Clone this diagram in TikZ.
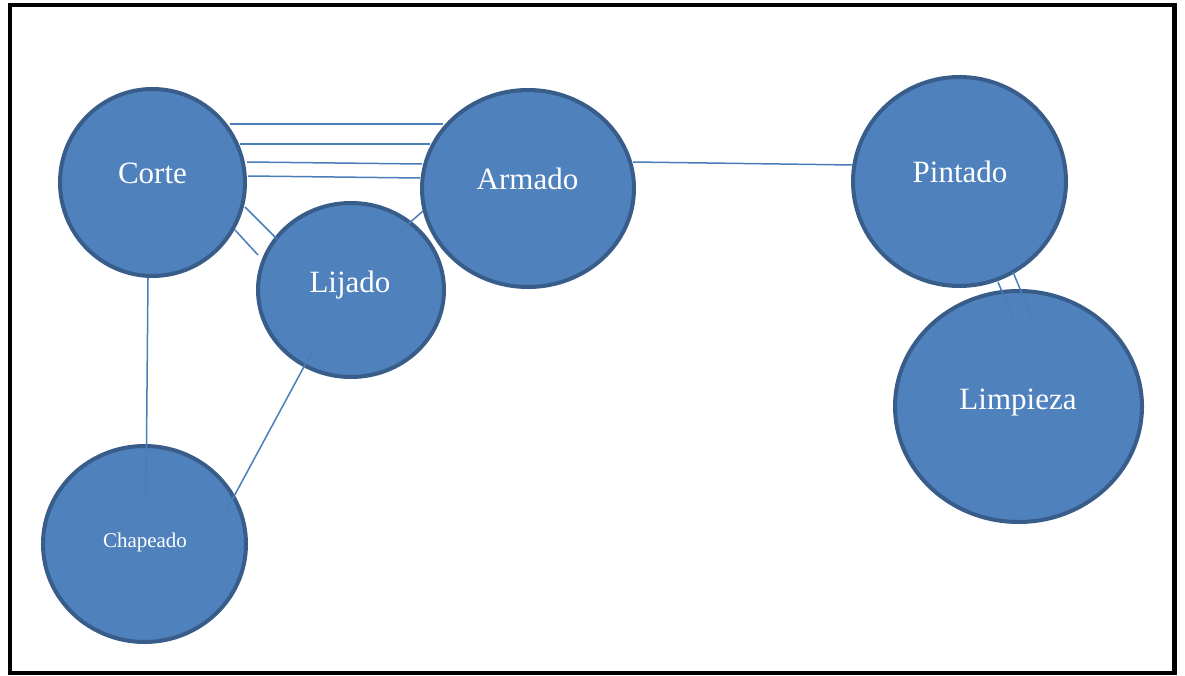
\documentclass[tikz,border=0pt]{standalone}
\usepackage{fontspec}
\setmainfont{Liberation Serif}
\usetikzlibrary{shapes.geometric,calc}
\definecolor{stepfill}{HTML}{4F81BD}
\definecolor{stepedge}{HTML}{385D8A}
\definecolor{linkcol}{HTML}{4A7EBB}
\begin{document}
\begin{tikzpicture}[x=1pt,y=-1pt,
  stage/.style={ellipse,draw=stepedge,fill=stepfill,line width=4pt,inner sep=0pt},
  bigtxt/.style={anchor=base,text=white,font=\fontsize{31}{37}\selectfont,inner sep=0pt},
  smalltxt/.style={anchor=base,text=white,font=\fontsize{21}{25}\selectfont,inner sep=0pt},
  link/.style={draw=linkcol,line width=1.5pt}]
\useasboundingbox (0,0) rectangle (1185,676);
% outer frame
\draw[line width=4.5pt] (10,5) rectangle (1174.5,673);

% stations
\node[stage,minimum width=185pt,minimum height=187pt] (corte) at (152.5,182.5) {};
\node[stage,minimum width=212pt,minimum height=197pt] (armado) at (528,188.5) {};
\node[stage,minimum width=186pt,minimum height=174pt] (lijado) at (351,290) {};
\node[stage,minimum width=213pt,minimum height=209pt] (pintado) at (959.5,181.5) {};
\node[stage,minimum width=247pt,minimum height=231pt] (limpieza) at (1018.5,406.5) {};
\node[stage,minimum width=203pt,minimum height=196pt] (chapeado) at (144.5,544) {};

% links between stations
\draw[link] ($(corte.center)+(77.5,-58.5)$) -- ($(armado.center)+(-85,-64.5)$);
\draw[link] ($(corte.center)+(87.5,-38.5)$) -- ($(armado.center)+(-98,-44.5)$);
\draw[link] ($(corte.center)+(94.5,-20.5)$) -- ($(armado.center)+(-106,-24.5)$);
\draw[link] ($(corte.center)+(95.5,-6.5)$) -- ($(armado.center)+(-108,-10.5)$);
\draw[link] ($(corte.center)+(92.5,24.5)$) -- ($(lijado.center)+(-74,-51)$);
\draw[link] ($(corte.center)+(82.5,47.5)$) -- ($(lijado.center)+(-93,-35)$);
\draw[link] ($(armado.center)+(-105,22.5)$) -- ($(lijado.center)+(47,-57)$);
\draw[link] ($(armado.center)+(105,-26.5)$) -- ($(pintado.center)+(-106.5,-16.5)$);
\draw[link] ($(pintado.center)+(38.5,100.5)$) -- ($(limpieza.center)+(-5.5,-88.5)$);
\draw[link] ($(pintado.center)+(53.5,90.5)$) -- ($(limpieza.center)+(14.5,-86.5)$);
\draw[link] ($(corte.center)+(-4.5,95.5)$) -- ($(chapeado.center)+(1.5,-44)$);
\draw[link] ($(lijado.center)+(-38,60)$) -- ($(chapeado.center)+(80.5,-31)$);

% labels
\node[bigtxt] (tcorte) at (152.5,184) {Corte};
\node[bigtxt] (tarmado) at (527.5,190) {Armado};
\node[bigtxt] (tlijado) at (350,292) {Lijado};
\node[bigtxt] (tpintado) at (960,183) {Pintado};
\node[bigtxt] (tlimpieza) at (1018,409) {Limpieza};
\node[smalltxt] (tchapeado) at (145,547) {Chapeado};
\end{tikzpicture}
\end{document}
